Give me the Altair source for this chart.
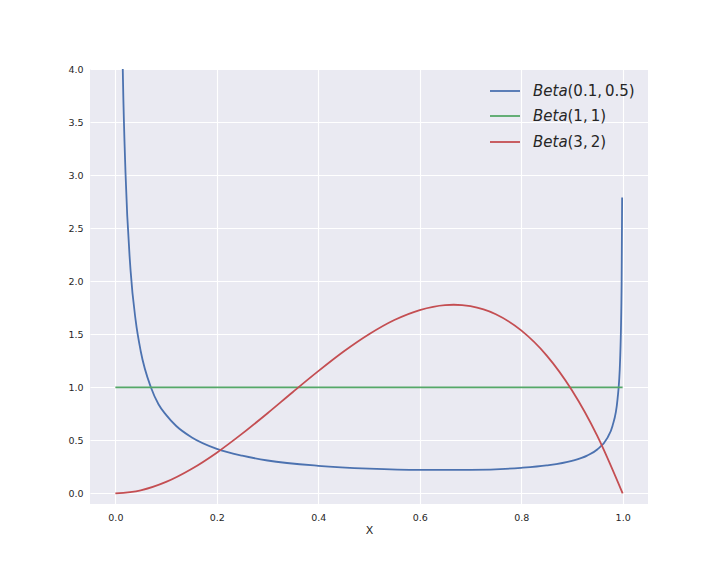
import altair as alt
import pandas as pd

# Beta(0.1, 0.5)
blue_x = [0.005, 0.01, 0.015, 0.02, 0.03, 0.04, 0.05, 0.07, 0.085, 0.1, 0.12, 0.15, 0.2, 0.25,
          0.3, 0.4, 0.5, 0.6, 0.7, 0.8, 0.85, 0.9, 0.93, 0.95, 0.97, 0.98, 0.99, 0.995, 0.998, 0.999]
blue_y = [10.4, 5.60, 3.90, 3.02, 2.10, 1.63, 1.34, 1.00, 0.84, 0.74, 0.635, 0.53, 0.42, 0.355,
          0.31, 0.26, 0.233, 0.221, 0.222, 0.241, 0.264, 0.307, 0.356, 0.414, 0.524, 0.636, 0.891,
          1.255, 1.978, 2.79]
# Beta(1, 1)
green_x = [0.0, 1.0]
green_y = [1.0, 1.0]
# Beta(3, 2)
red_x = [0.0, 0.05, 0.1, 0.15, 0.2, 0.25, 0.3, 0.35, 0.4, 0.45, 0.5, 0.55, 0.6, 0.65,
         0.667, 0.7, 0.75, 0.8, 0.85, 0.9, 0.95, 1.0]
red_y = [0.0, 0.029, 0.108, 0.23, 0.384, 0.563, 0.756, 0.956, 1.152, 1.337, 1.5, 1.634, 1.728,
         1.775, 1.778, 1.764, 1.688, 1.536, 1.301, 0.972, 0.542, 0.0]

series = ["Beta(0.1, 0.5)", "Beta(1, 1)", "Beta(3, 2)"]
legend_args = ["(0.1,\u20090.5)", "(1,\u20091)", "(3,\u20092)"]
colors = ["#4C72B0", "#55A868", "#C44E52"]

rows = []
for name, xs, ys in zip(series, [blue_x, green_x, red_x], [blue_y, green_y, red_y]):
    for i, (a, b) in enumerate(zip(xs, ys)):
        rows.append({"series": name, "x": a, "y": b, "order": i})
df = pd.DataFrame(rows)

xscale = alt.Scale(domain=[-0.05, 1.05], nice=False, zero=False)
yscale = alt.Scale(domain=[-0.1, 4.0], nice=False, zero=False)

lines = alt.Chart(df).mark_line(strokeWidth=1.8, clip=True, interpolate="monotone").encode(
    x=alt.X("x:Q", scale=xscale, title="X",
            axis=alt.Axis(values=[0, 0.2, 0.4, 0.6, 0.8, 1.0], format=".1f")),
    y=alt.Y("y:Q", scale=yscale, title=None,
            axis=alt.Axis(values=[0, 0.5, 1.0, 1.5, 2.0, 2.5, 3.0, 3.5, 4.0], format=".1f")),
    color=alt.Color("series:N", scale=alt.Scale(domain=series, range=colors), legend=None),
    detail="series:N",
    order="order:Q",
)

one = pd.DataFrame({"a": [0]})
legend_layers = []
ys_leg = [22, 47, 73]
for i in range(3):
    legend_layers.append(
        alt.Chart(one).mark_rule(color=colors[i], strokeWidth=1.8).encode(
            x=alt.value(400), x2=alt.value(430), y=alt.value(ys_leg[i])))
    legend_layers.append(
        alt.Chart(one).mark_text(text="Beta", font="DejaVu Sans", fontSize=15, fontStyle="italic",
                                 align="left", baseline="middle", color="#262626").encode(
            x=alt.value(443), y=alt.value(ys_leg[i])))
    legend_layers.append(
        alt.Chart(one).mark_text(text=legend_args[i], font="DejaVu Sans", fontSize=15,
                                 align="left", baseline="middle", color="#262626").encode(
            x=alt.value(477.5), y=alt.value(ys_leg[i])))

chart = alt.layer(lines, *legend_layers).properties(
    width=558, height=435,
    autosize=alt.AutoSizeParams(type="none"),
    padding={"left": 82, "top": 61, "right": 64, "bottom": 64},
).configure_view(fill="#EAEAF2", stroke=None).configure_axis(
    grid=True, gridColor="white", gridWidth=1.1, domain=False, ticks=False,
    labelFont="DejaVu Sans", labelFontSize=9.5, labelColor="#262626",
    titleFont="DejaVu Sans", titleFontSize=11, titleColor="#262626", titleFontWeight="normal",
).configure_axisX(labelPadding=8, titlePadding=3).configure_axisY(labelPadding=7)

chart.save("out.html", embed_options={"renderer": "svg", "actions": False})
